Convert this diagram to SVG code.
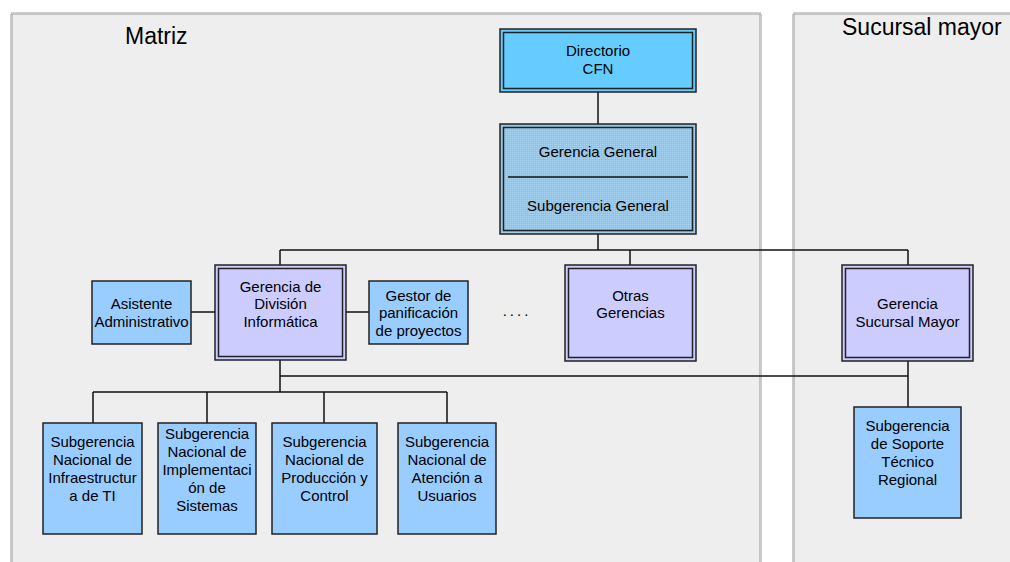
<svg xmlns="http://www.w3.org/2000/svg" width="1010" height="562" viewBox="0 0 1010 562">
  <style>
    .panel { fill: #eeeeee; stroke: #9a9a9a; stroke-width: 3; stroke-dasharray: 1 1; }
    .title { font-family: "Liberation Sans", Arial, sans-serif; font-size: 23px; fill: #000; }
    .lbl { font-family: "Liberation Sans", Arial, sans-serif; font-size: 15px; fill: #000; text-anchor: middle; }
    .box { stroke: #222; stroke-width: 1.5; }
    .inner { fill: none; stroke: #222; stroke-width: 1.5; }
    .blue { fill: #99ccff; }
    .sky { fill: #66ccff; }
    .lilac { fill: #ccccff; }
    .wire { fill: none; stroke: #111; stroke-width: 1.5; }
  </style>
  <defs>
    <pattern id="grain" width="2" height="2" patternUnits="userSpaceOnUse">
      <rect width="2" height="2" fill="#92c8ec"/>
      <rect width="1" height="1" fill="#a6d3f1"/>
      <rect x="1" y="1" width="1" height="1" fill="#86c1e8"/>
    </pattern>
  </defs>

  <rect width="1010" height="562" fill="#ffffff"/>

  <!-- regional panels -->
  <g id="panel-matriz">
    <rect class="panel" x="11.5" y="13.5" width="749" height="560"/>
    <text class="title" x="125" y="44">Matriz</text>
  </g>
  <g id="panel-sucursal">
    <rect class="panel" x="793.5" y="13.5" width="230" height="560"/>
    <text class="title" x="842" y="35">Sucursal mayor</text>
  </g>

  <!-- connectors -->
  <g id="connectors">
    <path class="wire" d="M598 92 V124"/>
    <path class="wire" d="M598 234 V250"/>
    <path class="wire" d="M280 250 H908"/>
    <path class="wire" d="M280 250 V265 M630 250 V265 M908 250 V265"/>
    <path class="wire" d="M191 312 H215 M346 312 H369"/>
    <path class="wire" d="M280 360 V392"/>
    <path class="wire" d="M280 376 H908"/>
    <path class="wire" d="M908 361 V407"/>
    <path class="wire" d="M93 392 H447"/>
    <path class="wire" d="M93 392 V423 M207 392 V423 M324 392 V423 M447 392 V423"/>
  </g>

  <g id="directorio">
    <rect class="box sky" x="500" y="29" width="196" height="63"/>
    <rect class="inner" x="503.5" y="32.5" width="189" height="56"/>
    <text class="lbl" x="598" y="56">Directorio</text>
    <text class="lbl" x="598" y="74">CFN</text>
  </g>

  <g id="gerencia-general">
    <rect class="box" fill="url(#grain)" x="500" y="124" width="196" height="110"/>
    <rect class="inner" x="503.5" y="127.5" width="189" height="103"/>
    <path class="wire" d="M508 177 H688"/>
    <text class="lbl" x="598" y="157">Gerencia General</text>
    <text class="lbl" x="598" y="211">Subgerencia General</text>
  </g>

  <g id="asistente">
    <rect class="box blue" x="92" y="281" width="99" height="63"/>
    <text class="lbl" x="141.5" y="309">Asistente</text>
    <text class="lbl" x="141.5" y="327">Administrativo</text>
  </g>

  <g id="gerencia-division">
    <rect class="box lilac" x="215" y="265" width="131" height="95"/>
    <rect class="inner" x="218.5" y="268.5" width="124" height="88"/>
    <text class="lbl" x="280.5" y="292">Gerencia de</text>
    <text class="lbl" x="280.5" y="309">División</text>
    <text class="lbl" x="280.5" y="327">Informática</text>
  </g>

  <g id="gestor">
    <rect class="box blue" x="369" y="281" width="99" height="63"/>
    <text class="lbl" x="418.5" y="301">Gestor de</text>
    <text class="lbl" x="418.5" y="318">panificación</text>
    <text class="lbl" x="418.5" y="336">de proyectos</text>
  </g>

  <g id="ellipsis">
    <text class="lbl" x="517" y="316" letter-spacing="3">....</text>
  </g>

  <g id="otras-gerencias">
    <rect class="box lilac" x="565" y="265" width="131" height="96"/>
    <rect class="inner" x="568.5" y="268.5" width="124" height="89"/>
    <text class="lbl" x="630.5" y="301">Otras</text>
    <text class="lbl" x="630.5" y="318">Gerencias</text>
  </g>

  <g id="gerencia-sucursal">
    <rect class="box lilac" x="842" y="265" width="131" height="96"/>
    <rect class="inner" x="845.5" y="268.5" width="124" height="89"/>
    <text class="lbl" x="907.5" y="309">Gerencia</text>
    <text class="lbl" x="907.5" y="327">Sucursal Mayor</text>
  </g>

  <g id="sub-infraestructura">
    <rect class="box blue" x="43" y="423" width="99" height="111"/>
    <text class="lbl" x="92.5" y="447">Subgerencia</text>
    <text class="lbl" x="92.5" y="465">Nacional de</text>
    <text class="lbl" x="92.5" y="483">Infraestructur</text>
    <text class="lbl" x="92.5" y="501">a de TI</text>
  </g>

  <g id="sub-implementacion">
    <rect class="box blue" x="158" y="423" width="98" height="111"/>
    <text class="lbl" x="207" y="439">Subgerencia</text>
    <text class="lbl" x="207" y="457">Nacional de</text>
    <text class="lbl" x="207" y="475">Implementaci</text>
    <text class="lbl" x="207" y="493">ón de</text>
    <text class="lbl" x="207" y="511">Sistemas</text>
  </g>

  <g id="sub-produccion">
    <rect class="box blue" x="272" y="423" width="105" height="111"/>
    <text class="lbl" x="324.5" y="447">Subgerencia</text>
    <text class="lbl" x="324.5" y="465">Nacional de</text>
    <text class="lbl" x="324.5" y="483">Producción y</text>
    <text class="lbl" x="324.5" y="501">Control</text>
  </g>

  <g id="sub-atencion">
    <rect class="box blue" x="398" y="423" width="98" height="111"/>
    <text class="lbl" x="447" y="447">Subgerencia</text>
    <text class="lbl" x="447" y="465">Nacional de</text>
    <text class="lbl" x="447" y="483">Atención a</text>
    <text class="lbl" x="447" y="501">Usuarios</text>
  </g>

  <g id="sub-soporte">
    <rect class="box blue" x="854" y="407" width="107" height="111"/>
    <text class="lbl" x="907.5" y="431">Subgerencia</text>
    <text class="lbl" x="907.5" y="449">de Soporte</text>
    <text class="lbl" x="907.5" y="467">Técnico</text>
    <text class="lbl" x="907.5" y="485">Regional</text>
  </g>
</svg>
